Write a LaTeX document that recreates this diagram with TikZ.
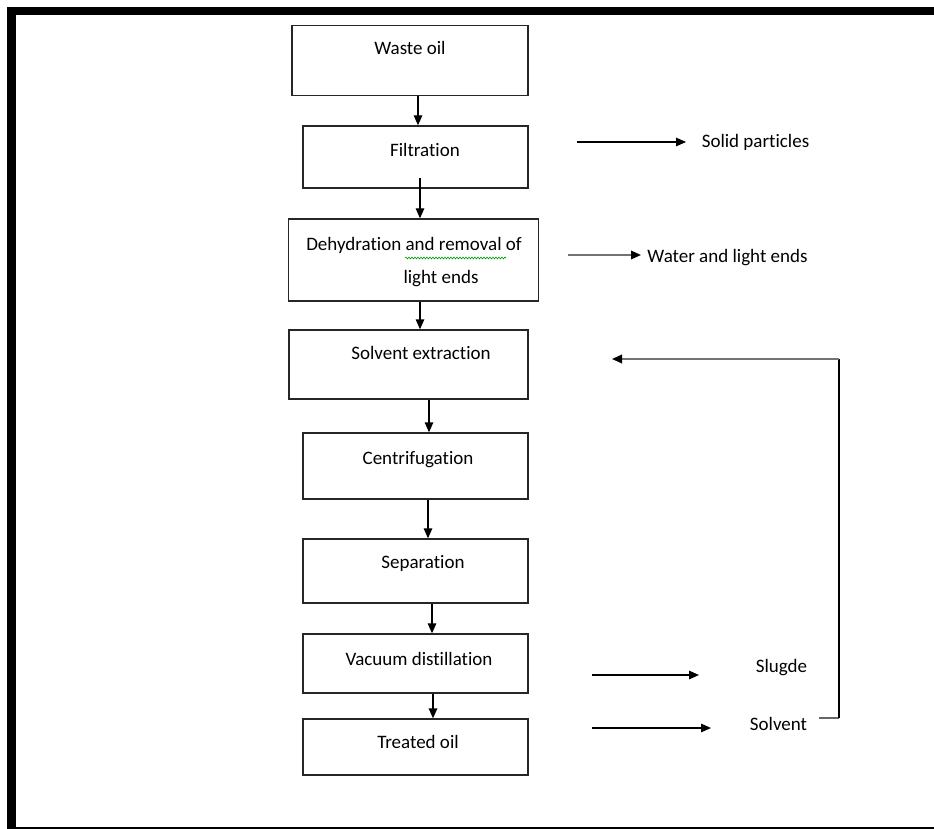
\documentclass[tikz,border=0pt]{standalone}
\usepackage{fontspec}
\setmainfont{Carlito}[Ligatures=CommonOff]
\usetikzlibrary{arrows.meta,decorations.pathmorphing}
\begin{document}
\begin{tikzpicture}[x=1pt,y=-1pt,
  box/.style={draw=black!85,line width=1.3pt,inner sep=0pt,fill=white},
  lbl/.style={anchor=base,inner sep=0pt,font=\fontsize{19}{23}\selectfont},
  arr/.style={draw=black,line width=1.3pt,-{Triangle[length=10pt,width=8.5pt]}},
  garr/.style={draw=black!55,line width=1.8pt,-{Triangle[length=10pt,width=8.5pt,color=black]}},
  gline/.style={draw=black!60,line width=1.5pt}]
\useasboundingbox (0,0) rectangle (934,829);
% frame
\fill[black] (7,7) rectangle (934,15);
\fill[black] (7,7) rectangle (16,829);
\fill[black] (7,827) rectangle (934,829);
% boxes
\node[box,minimum width=236pt,minimum height=70pt] (b1) at (410,60.5) {};
\node[box,minimum width=225pt,minimum height=62pt] (b2) at (415.5,157) {};
\node[box,minimum width=250pt,minimum height=82pt] (b3) at (413.5,260) {};
\node[box,minimum width=239pt,minimum height=69pt] (b4) at (408.5,364.5) {};
\node[box,minimum width=225pt,minimum height=66pt] (b5) at (415.5,466) {};
\node[box,minimum width=225pt,minimum height=64pt] (b6) at (415.5,571) {};
\node[box,minimum width=225pt,minimum height=59pt] (b7) at (415.5,663.5) {};
\node[box,minimum width=225pt,minimum height=56pt] (b8) at (415.5,747) {};
% box texts
\node[lbl] (t1) at (410,55) {Waste oil};
\node[lbl] (t2) at (425,157) {Filtration};
\node[lbl] (t3a) at (414,250) {Dehydration and removal of};
\node[lbl] (t3b) at (441,283) {light ends};
\node[lbl] (t4) at (421,359) {Solvent extraction};
\node[lbl] (t5) at (418,464) {Centrifugation};
\node[lbl] (t6) at (423,568) {Separation};
\node[lbl] (t7) at (419,665) {Vacuum distillation};
\node[lbl] (t8) at (418,748) {Treated oil};
% spell-check underline
\draw[green!60!black,line width=0.6pt,decorate,decoration={snake,amplitude=0.9pt,segment length=3pt}] (405,258) -- (506,258);
% side texts
\node[lbl] (ts) at (755.5,148) {Solid particles};
\node[lbl] (tw) at (727.5,262) {Water and light ends};
\node[lbl] (tg) at (781.5,672) {Slugde};
\node[lbl] (tv) at (778.5,730) {Solvent};
% vertical connectors
\coordinate (x1) at (418,0);
\coordinate (x2) at (420,0);
\coordinate (x4) at (429,0);
\coordinate (x5) at (428,0);
\coordinate (x6) at (432,0);
\coordinate (x7) at (433,0);
\coordinate (f1) at (420,178);
\draw[arr] (b1.south -| x1) -- (b2.north -| x1);
\draw[arr] (f1) -- (b3.north -| x2);
\draw[arr] (b3.south -| x2) -- (b4.north -| x2);
\draw[arr] (b4.south -| x4) -- (b5.north -| x4);
\draw[arr] (b5.south -| x5) -- (b6.north -| x5);
\draw[arr] (b6.south -| x6) -- (b7.north -| x6);
\draw[arr] (b7.south -| x7) -- (b8.north -| x7);
% side connectors
\coordinate (s1) at (577,142);
\coordinate (s2) at (686,142);
\coordinate (w1) at (568,255);
\coordinate (w2) at (641,255);
\coordinate (g1) at (592,675);
\coordinate (g2) at (699,675);
\coordinate (v1) at (592,728);
\coordinate (v2) at (711,728);
\draw[arr] (s1) -- (s2);
\draw[garr] (w1) -- (w2);
\draw[arr] (g1) -- (g2);
\draw[arr] (v1) -- (v2);
% feedback loop
\coordinate (r1) at (819,718);
\coordinate (r2) at (839,718);
\coordinate (r3) at (839,359);
\coordinate (r4) at (612,359);
\draw[gline] (r1) -- (r2);
\draw[black,line width=1.3pt] (r2) -- (r3);
\draw[garr] (r3) -- (r4);
\end{tikzpicture}
\end{document}
